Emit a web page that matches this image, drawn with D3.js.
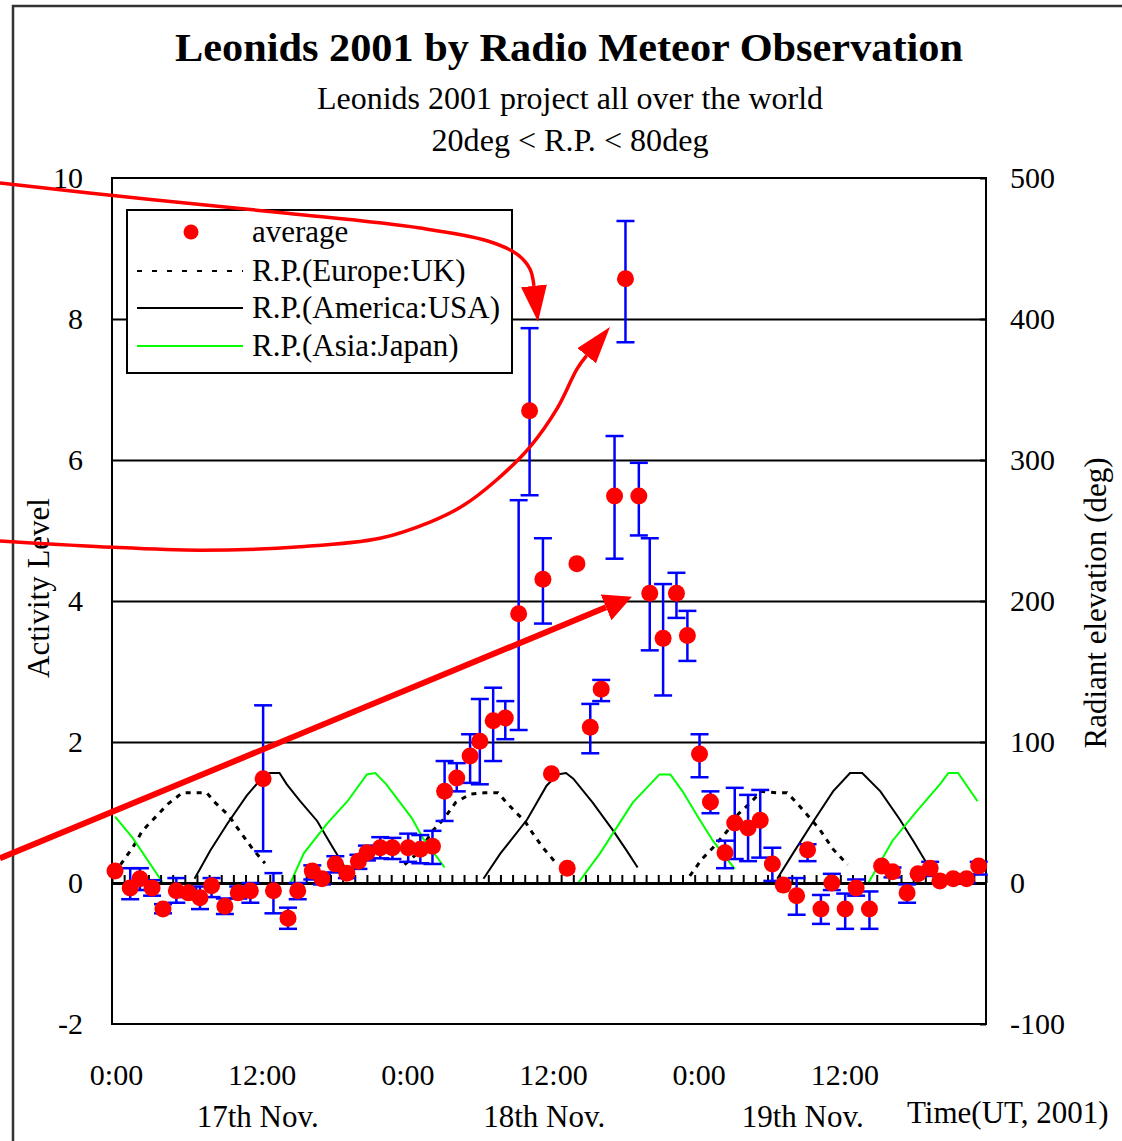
<!DOCTYPE html>
<html><head><meta charset="utf-8">
<script src="https://cdn.jsdelivr.net/npm/d3@7"></script>
<style>
html,body{margin:0;padding:0;background:#fff;}
svg{display:block;}
text{font-family:"Liberation Serif","Times New Roman",serif;fill:#000;}
</style></head>
<body>
<svg id="chart" width="1122" height="1141"></svg>
<script>
// ---------- data ----------
const hours    = [0.25,1.5,2.3,3.3,4.2,5.3,6.3,7.25,8.2,9.3,10.4,11.4,12.45,13.3,14.5,15.3,16.5,17.3,18.4,19.35,20.3,21.0,22.1,23.1,24.4,25.4,26.4,27.4,28.4,29.5,30.3,31.4,32.4,33.5,34.4,35.5,36.2,37.5,38.3,39.4,40.3,41.4,42.3,43.4,44.3,45.4,46.5,47.4,48.4,49.3,50.5,51.3,52.4,53.4,54.4,55.3,56.4,57.3,58.4,59.3,60.4,61.3,62.4,63.4,64.3,65.5,66.4,67.4,68.2,69.3,70.4,71.4];
const activity = [0.17,-0.07,0.06,-0.07,-0.37,-0.11,-0.14,-0.21,-0.04,-0.33,-0.14,-0.11,1.48,-0.11,-0.5,-0.11,0.17,0.06,0.27,0.14,0.31,0.43,0.5,0.5,0.5,0.48,0.52,1.3,1.49,1.8,2.01,2.3,2.34,3.82,6.70,4.31,1.55,0.21,4.53,2.21,2.75,5.49,8.57,5.49,4.11,3.47,4.11,3.51,1.83,1.15,0.43,0.85,0.78,0.89,0.27,-0.03,-0.18,0.47,-0.37,0.0,-0.37,-0.07,-0.37,0.24,0.16,-0.14,0.13,0.21,0.03,0.06,0.06,0.24];
const errLow   = [null,-0.23,-0.1,-0.18,-0.43,-0.28,-0.2,-0.37,-0.2,-0.44,-0.22,-0.28,0.45,-0.43,-0.65,-0.23,0.05,-0.02,0.15,0.07,0.2,0.32,0.35,0.34,0.3,0.28,0.27,0.88,1.3,1.42,1.4,1.73,2.04,2.17,5.50,3.68,null,null,null,1.84,2.58,4.6,7.67,4.93,3.3,2.66,3.76,3.15,1.5,0.99,0.21,0.34,0.31,0.36,0.03,null,-0.45,0.31,-0.58,-0.1,-0.65,-0.18,-0.65,null,0.08,-0.28,null,0.1,null,null,0.0,0.12];
const errHigh  = [null,0.21,0.21,0.04,-0.3,0.07,-0.08,-0.05,0.07,-0.22,-0.05,0.0,2.52,0.14,-0.35,0.0,0.25,0.12,0.38,0.22,0.4,0.53,0.65,0.64,0.7,0.68,0.74,1.73,1.7,2.11,2.61,2.77,2.58,5.43,7.87,4.89,null,null,null,2.54,2.88,6.34,9.39,5.96,4.89,4.24,4.4,3.86,2.11,1.3,0.6,1.35,1.25,1.32,0.5,null,0.07,0.55,-0.17,0.13,-0.15,0.05,-0.12,null,0.22,-0.02,null,0.3,null,null,0.12,0.3];

// radiant elevation (deg) curves: [hour, elevation]
const rpEurope = [
  [[0.7,13],[1.7,25],[2.5,37],[3.5,46],[4.6,56],[5.8,64],[6.7,64],[7.8,64],[8.5,57],[9.6,48],[10.5,37],[11.6,24],[12.6,14]],
  [[24.1,13],[25.4,23],[26.4,37],[27.3,45],[28.3,57],[29.5,63],[30.7,64],[31.8,64],[32.5,57],[33.4,49],[34.0,44],[34.6,36],[35.5,25],[36.7,13]],
  [[47.6,5],[48.6,17],[49.5,25],[50.7,37],[51.6,49],[52.6,57],[53.5,65],[54.8,64],[55.6,64],[56.4,57],[58.3,38],[59.4,24],[60.6,13]]
];
const rpAmerica = [
  [[6.8,3],[8.1,23],[9.5,42],[11.1,62],[12.4,75],[13.0,78],[13.8,78],[14.4,70],[15.5,58],[16.9,44],[18.2,25],[19.2,11]],
  [[30.6,3],[32.0,21],[34.2,45],[35.8,69],[36.7,77],[37.4,78],[38.0,74],[39.6,57],[41.3,37],[42.4,23],[43.3,11]],
  [[54.8,3],[56.1,21],[57.8,44],[59.4,65],[60.8,78],[61.8,78],[63.3,65],[64.9,45],[66.0,30],[67.4,10]]
];
const rpJapan = [
  [[0.25,47],[1.7,32],[4.2,0]],
  [[14.7,0],[15.8,21],[17.7,42],[19.4,58],[21.0,77],[21.7,78],[22.6,70],[24.7,46],[25.6,32],[27.4,11]],
  [[38.4,0],[40.2,21],[42.9,57],[45.1,77],[46.0,77],[47.0,65],[48.4,45],[49.5,30],[51.3,10]],
  [[62.3,0],[64.3,30],[66.3,51],[68.2,70],[68.9,78],[69.7,78],[71.3,58]]
];

const leftTicks  = [-2,0,2,4,6,8,10];
const rightTicks = [-100,0,100,200,300,400,500];
const timeTicks  = [0,12,24,36,48,60];
const timeLabels = ["0:00","12:00","0:00","12:00","0:00","12:00"];
const dayLabels  = ["17th Nov.","18th Nov.","19th Nov."];
const dayHours   = [12,35.6,56.9];
const legendLabels = ["average","R.P.(Europe:UK)","R.P.(America:USA)","R.P.(Asia:Japan)"];

// annotation arrows (hand-drawn red arrows), in [hour, activity] units
const arrow1 = [[-9.23,9.93],[3.38,9.69],[14.42,9.50],[25.37,9.29],[30.89,9.11],[33.36,8.92],[34.43,8.71],[34.76,8.47]];
const arrow2 = [[-9.23,4.85],[-0.99,4.77],[7.25,4.72],[15.49,4.77],[22.08,4.89],[26.2,5.12],[28.9,5.35],[31.7,5.72],[34.4,6.18],[36.7,6.74],[38.3,7.29],[39.1,7.48]];
const arrow3 = [[-9.23,0.35],[40.7,3.91]];

// ---------- layout ----------
const L = 112, R = 986, T = 178, B = 1024;
const svg = d3.select("#chart");
const x  = d3.scaleLinear().domain([0,72]).range([L,R]);
const yL = d3.scaleLinear().domain([-2,10]).range([B,T]);
const yR = d3.scaleLinear().domain([-100,500]).range([B,T]);
const plain = d => String(d);

// outer frame
svg.append("rect").attr("x",13).attr("y",6).attr("width",1140).attr("height",1160)
  .attr("fill","none").attr("stroke","#333").attr("stroke-width",2.5);

// titles
svg.append("text").attr("x",569).attr("y",61).attr("text-anchor","middle")
  .attr("font-size",41).attr("font-weight","bold")
  .attr("textLength",788).attr("lengthAdjust","spacingAndGlyphs")
  .text("Leonids 2001 by Radio Meteor Observation");
svg.append("text").attr("x",570).attr("y",109).attr("text-anchor","middle")
  .attr("font-size",31).attr("textLength",506).attr("lengthAdjust","spacingAndGlyphs")
  .text("Leonids 2001 project all over the world");
svg.append("text").attr("x",570).attr("y",151).attr("text-anchor","middle")
  .attr("font-size",31).attr("textLength",277).attr("lengthAdjust","spacingAndGlyphs")
  .text("20deg < R.P. < 80deg");

// gridlines
const grid = svg.append("g").attr("transform",`translate(${L},0)`)
  .call(d3.axisLeft(yL).tickValues([2,4,6,8]).tickSize(-(R-L)).tickFormat(""));
grid.select(".domain").remove();
grid.selectAll("line").attr("stroke","#000").attr("stroke-width",2);

// plot border
svg.append("rect").attr("x",L).attr("y",T).attr("width",R-L).attr("height",B-T)
  .attr("fill","none").attr("stroke","#000").attr("stroke-width",2);

// left axis labels
const axL = svg.append("g").attr("transform",`translate(${L},0)`)
  .call(d3.axisLeft(yL).tickValues(leftTicks).tickSize(0).tickPadding(29).tickFormat(plain));
axL.select(".domain").remove();
axL.selectAll("text").attr("font-size",30).attr("font-family","Liberation Serif");

// right axis labels
const axR = svg.append("g").attr("transform",`translate(${R},0)`)
  .call(d3.axisRight(yR).tickValues(rightTicks).tickSize(-6).tickPadding(24).tickFormat(plain));
axR.select(".domain").remove();
axR.selectAll("line").attr("stroke","#000").attr("stroke-width",2);
axR.selectAll("text").attr("font-size",30).attr("font-family","Liberation Serif");

// bottom time labels
const axB = svg.append("g").attr("transform",`translate(0,${B})`)
  .call(d3.axisBottom(x).tickValues(timeTicks).tickSize(0).tickPadding(40)
    .tickFormat((d,i)=>timeLabels[i]));
axB.select(".domain").remove();
axB.selectAll("text").attr("font-size",30).attr("dx",4).attr("font-family","Liberation Serif");

svg.selectAll(".day").data(dayLabels).enter().append("text").attr("class","day")
  .attr("x",(d,i)=>x(dayHours[i])).attr("y",1127).attr("text-anchor","middle")
  .attr("font-size",31).text(d=>d);
svg.append("text").attr("x",907).attr("y",1123).attr("font-size",31).text("Time(UT, 2001)");

// axis titles
svg.append("text").attr("transform","translate(49,588) rotate(-90)").attr("text-anchor","middle")
  .attr("font-size",31).text("Activity Level");
svg.append("text").attr("transform","translate(1106,603) rotate(-90)").attr("text-anchor","middle")
  .attr("font-size",31).text("Radiant elevation (deg)");

// RP curves
const rpLine = d3.line().x(d=>x(d[0])).y(d=>yR(d[1]));
const curves = svg.append("g");
rpEurope.forEach(seg=>curves.append("path").attr("d",rpLine(seg)).attr("fill","none")
  .attr("stroke","#000").attr("stroke-width",3).attr("stroke-dasharray","5,6"));
rpAmerica.forEach(seg=>curves.append("path").attr("d",rpLine(seg)).attr("fill","none")
  .attr("stroke","#000").attr("stroke-width",2));
rpJapan.forEach(seg=>curves.append("path").attr("d",rpLine(seg)).attr("fill","none")
  .attr("stroke","#00ff00").attr("stroke-width",2));

// zero axis with hourly ticks
const ax0 = svg.append("g").attr("transform",`translate(0,${yL(0)})`)
  .call(d3.axisBottom(x).tickValues(d3.range(0,73,1)).tickSize(-8).tickSizeOuter(0).tickFormat(""));
ax0.select(".domain").attr("stroke","#000").attr("stroke-width",3);
ax0.selectAll("line").attr("stroke","#000").attr("stroke-width",2);

// error bars
const pts = hours.map((h,i)=>({h, v:activity[i], lo:errLow[i], hi:errHigh[i]}));
const eb = svg.append("g").attr("stroke","#0000ff").attr("stroke-width",2.5);
pts.filter(d=>d.lo!==null).forEach(d=>{
  eb.append("line").attr("x1",x(d.h)).attr("x2",x(d.h)).attr("y1",yL(d.lo)).attr("y2",yL(d.hi));
  eb.append("line").attr("x1",x(d.h)-9).attr("x2",x(d.h)+9).attr("y1",yL(d.lo)).attr("y2",yL(d.lo));
  eb.append("line").attr("x1",x(d.h)-9).attr("x2",x(d.h)+9).attr("y1",yL(d.hi)).attr("y2",yL(d.hi));
});

// dots
svg.append("g").selectAll("circle").data(pts).enter().append("circle")
  .attr("cx",d=>x(d.h)).attr("cy",d=>yL(d.v)).attr("r",8.5).attr("fill","#ff0000");

// legend
const lg = svg.append("g");
lg.append("rect").attr("x",127).attr("y",210).attr("width",385).attr("height",163)
  .attr("fill","#fff").attr("stroke","#000").attr("stroke-width",2);
const rowY = [232,271,308,346];
lg.append("circle").attr("cx",191).attr("cy",rowY[0]).attr("r",7.5).attr("fill","#ff0000");
lg.append("line").attr("x1",137).attr("x2",243).attr("y1",rowY[1]).attr("y2",rowY[1])
  .attr("stroke","#000").attr("stroke-width",2).attr("stroke-dasharray","5,10");
lg.append("line").attr("x1",137).attr("x2",243).attr("y1",rowY[2]).attr("y2",rowY[2])
  .attr("stroke","#000").attr("stroke-width",2);
lg.append("line").attr("x1",137).attr("x2",243).attr("y1",rowY[3]).attr("y2",rowY[3])
  .attr("stroke","#00ff00").attr("stroke-width",2);
legendLabels.forEach((t,i)=>lg.append("text").attr("x",252).attr("y",rowY[i]+10)
  .attr("font-size",31).text(t));

// annotation arrows
const defs = svg.append("defs");
function marker(id,len,wid){
  defs.append("marker").attr("id",id).attr("markerUnits","userSpaceOnUse")
    .attr("viewBox","0 0 10 10").attr("preserveAspectRatio","none")
    .attr("refX",0).attr("refY",5)
    .attr("markerWidth",len).attr("markerHeight",wid).attr("orient","auto")
    .append("path").attr("d","M0,0L10,5L0,10Z").attr("fill","#ff0000");
}
marker("ah1",36,26); marker("ah2",37,24); marker("ah3",28,28);
const aLine = d3.line().x(d=>x(d[0])).y(d=>yL(d[1])).curve(d3.curveCatmullRom);
const arrows = svg.append("g").attr("fill","none").attr("stroke","#ff0000");
arrows.append("path").attr("d",aLine(arrow1)).attr("stroke-width",3.5).attr("marker-end","url(#ah1)");
arrows.append("path").attr("d",aLine(arrow2)).attr("stroke-width",3.5).attr("marker-end","url(#ah2)");
arrows.append("path").attr("d",d3.line().x(d=>x(d[0])).y(d=>yL(d[1]))(arrow3)).attr("stroke-width",6).attr("marker-end","url(#ah3)");
</script>
</body></html>
